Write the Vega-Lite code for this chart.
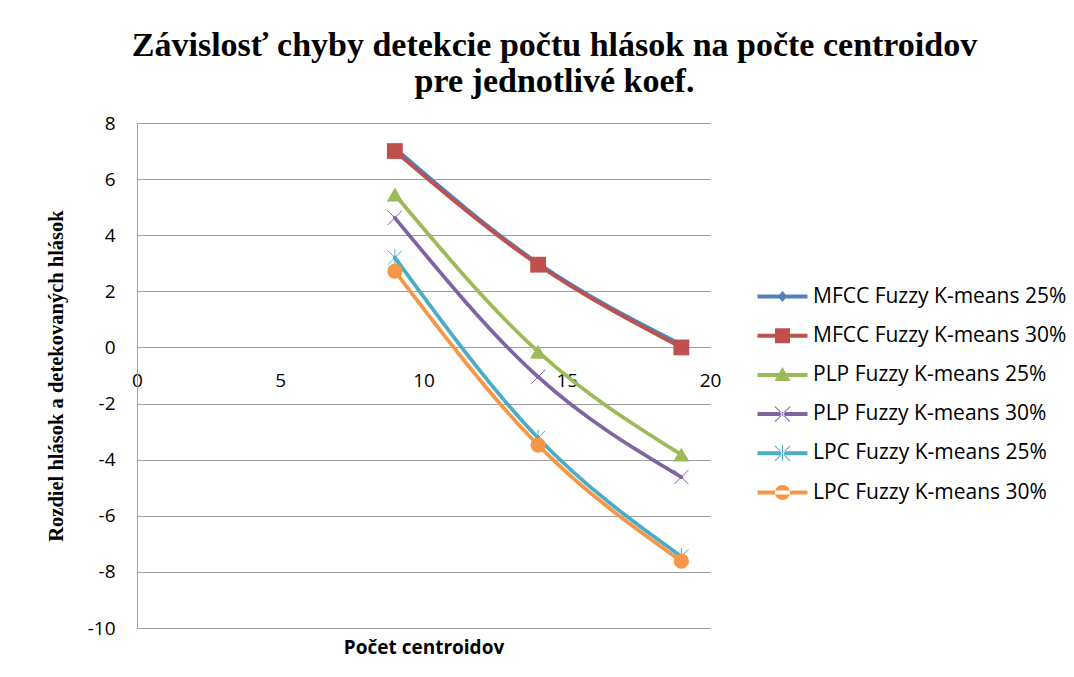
{
  "$schema": "https://vega.github.io/schema/vega-lite/v6.json",
  "autosize": {"type": "none"},
  "width": 573,
  "height": 505,
  "padding": {"left": 137, "top": 123, "right": 364, "bottom": 49},
  "background": "white",
  "config": {"view": {"stroke": null}, "font": "Open Sans"},
  "title": {
    "text": ["Závislosť chyby detekcie počtu hlások na počte centroidov", "pre jednotlivé koef."],
    "font": "Liberation Serif", "fontSize": 34, "fontWeight": "bold", "color": "black",
    "anchor": "middle", "frame": "group", "dx": 131, "offset": 15, "lineHeight": 36
  },
  "data": {"values": [
    {"series": "MFCC Fuzzy K-means 25%", "x": 9, "y": 7.1},
    {"series": "MFCC Fuzzy K-means 25%", "x": 14, "y": 3.0},
    {"series": "MFCC Fuzzy K-means 25%", "x": 19, "y": 0.1},
    {"series": "MFCC Fuzzy K-means 30%", "x": 9, "y": 7.0},
    {"series": "MFCC Fuzzy K-means 30%", "x": 14, "y": 2.95},
    {"series": "MFCC Fuzzy K-means 30%", "x": 19, "y": 0.0},
    {"series": "PLP Fuzzy K-means 25%", "x": 9, "y": 5.45},
    {"series": "PLP Fuzzy K-means 25%", "x": 14, "y": -0.15},
    {"series": "PLP Fuzzy K-means 25%", "x": 19, "y": -3.82},
    {"series": "PLP Fuzzy K-means 30%", "x": 9, "y": 4.62},
    {"series": "PLP Fuzzy K-means 30%", "x": 14, "y": -1.05},
    {"series": "PLP Fuzzy K-means 30%", "x": 19, "y": -4.62},
    {"series": "LPC Fuzzy K-means 25%", "x": 9, "y": 3.2},
    {"series": "LPC Fuzzy K-means 25%", "x": 14, "y": -3.23},
    {"series": "LPC Fuzzy K-means 25%", "x": 19, "y": -7.45},
    {"series": "LPC Fuzzy K-means 30%", "x": 9, "y": 2.72},
    {"series": "LPC Fuzzy K-means 30%", "x": 14, "y": -3.48},
    {"series": "LPC Fuzzy K-means 30%", "x": 19, "y": -7.62}
  ]},
  "encoding": {
    "x": {"field": "x", "type": "quantitative",
      "scale": {"domain": [0, 20], "nice": false, "zero": false},
      "axis": {"values": [0, 5, 10, 15, 20], "offset": -281, "grid": false, "ticks": false,
        "domain": true, "domainColor": "#a0a0a0", "labelFont": "Open Sans", "labelFontSize": 19,
        "labelColor": "black", "labelPadding": 24, "labelFlush": false,
        "title": "Počet centroidov", "titleFont": "Open Sans", "titleFontSize": 19, "titleFontWeight": "bold",
        "titleColor": "black", "titleY": 300, "titleBaseline": "middle"}},
    "y": {"field": "y", "type": "quantitative",
      "scale": {"domain": [-10, 8], "nice": false, "zero": false},
      "axis": {"values": [-10, -8, -6, -4, -2, 0, 2, 4, 6, 8], "grid": true, "gridColor": "#a0a0a0",
        "ticks": false, "domain": true, "domainColor": "#a0a0a0", "labelFont": "Open Sans",
        "labelFontSize": 19, "labelColor": "black", "labelPadding": 22, "labelExpr": "'' + datum.value",
        "title": "Rozdiel hlások a detekovaných hlások", "titleFont": "Liberation Serif",
        "titleFontSize": 20.5, "titleFontWeight": "bold", "titleColor": "black", "titlePadding": 21}}
  },
  "layer": [
    {"transform": [{"filter": "datum.series === 'MFCC Fuzzy K-means 25%'"}],
     "mark": {"type": "line", "interpolate": "monotone", "strokeWidth": 3.75, "strokeCap": "round", "strokeJoin": "round", "color": "#4F81BD",
       "point": {"shape": "diamond", "filled": true, "opacity": 1, "size": 110, "color": "#4F81BD"}}},
    {"transform": [{"filter": "datum.series === 'MFCC Fuzzy K-means 30%'"}],
     "mark": {"type": "line", "interpolate": "monotone", "strokeWidth": 3.75, "strokeCap": "round", "strokeJoin": "round", "color": "#C0504D",
       "point": {"shape": "square", "filled": true, "opacity": 1, "size": 250, "color": "#C0504D"}}},
    {"transform": [{"filter": "datum.series === 'PLP Fuzzy K-means 25%'"}],
     "mark": {"type": "line", "interpolate": "monotone", "strokeWidth": 3.75, "strokeCap": "round", "strokeJoin": "round", "color": "#9BBB59",
       "point": {"shape": "triangle-up", "filled": true, "opacity": 1, "size": 260, "color": "#9BBB59"}}},
    {"transform": [{"filter": "datum.series === 'PLP Fuzzy K-means 30%'"}],
     "mark": {"type": "line", "interpolate": "monotone", "strokeWidth": 3.75, "strokeCap": "round", "strokeJoin": "round", "color": "#8064A2",
       "point": {"shape": "M-1,-1L1,1M-1,1L1,-1", "filled": false, "opacity": 1, "size": 200, "strokeWidth": 1, "color": "#8064A2"}}},
    {"transform": [{"filter": "datum.series === 'LPC Fuzzy K-means 25%'"}],
     "mark": {"type": "line", "interpolate": "monotone", "strokeWidth": 3.75, "strokeCap": "round", "strokeJoin": "round", "color": "#4BACC6",
       "point": {"shape": "M-1,-1L1,1M-1,1L1,-1M0,-1.2V1.2", "filled": false, "opacity": 1, "size": 200, "strokeWidth": 1, "color": "#4BACC6"}}},
    {"transform": [{"filter": "datum.series === 'LPC Fuzzy K-means 30%'"}],
     "mark": {"type": "line", "interpolate": "monotone", "strokeWidth": 3.75, "strokeCap": "round", "strokeJoin": "round", "color": "#F79646",
       "point": {"shape": "circle", "filled": true, "opacity": 1, "size": 230, "color": "#F79646"}}},
    {"mark": {"type": "point", "filled": true, "size": 0},
     "encoding": {
       "color": {"field": "series", "type": "nominal",
         "scale": {"domain": ["MFCC Fuzzy K-means 25%", "MFCC Fuzzy K-means 30%", "PLP Fuzzy K-means 25%", "PLP Fuzzy K-means 30%", "LPC Fuzzy K-means 25%", "LPC Fuzzy K-means 30%"],
           "range": ["#4F81BD", "#C0504D", "#9BBB59", "#8064A2", "#4BACC6", "#F79646"]},
         "legend": {"title": null, "orient": "none", "legendX": 635, "legendY": 163, "padding": 0,
           "labelFont": "Open Sans", "labelFontSize": 21, "labelColor": "black", "labelOffset": 20,
           "rowPadding": 17.2, "symbolSize": 100, "symbolOpacity": 1, "symbolStrokeWidth": 0, "labelLimit": 400}},
       "shape": {"field": "series", "type": "nominal",
         "scale": {"domain": ["MFCC Fuzzy K-means 25%", "MFCC Fuzzy K-means 30%", "PLP Fuzzy K-means 25%", "PLP Fuzzy K-means 30%", "LPC Fuzzy K-means 25%", "LPC Fuzzy K-means 30%"],
           "range": [
             "M-5,-0.4H5V0.4H-5Z M0,-1.1L0.95,0L0,1.1L-0.95,0Z",
             "M-5,-0.4H5V0.4H-5Z M-1.5,-1.5H1.5V1.5H-1.5Z",
             "M-5,-0.4H5V0.4H-5Z M0,-1.6L1.6,1.2L-1.6,1.2Z",
             "M-5,-0.4H5V0.4H-5Z M-1.57,-1.43L1.43,1.57L1.57,1.43L-1.43,-1.57Z M-1.43,1.57L1.57,-1.43L1.43,-1.57L-1.57,1.43Z",
             "M-5,-0.4H5V0.4H-5Z M-1.57,-1.43L1.43,1.57L1.57,1.43L-1.43,-1.57Z M-1.43,1.57L1.57,-1.43L1.43,-1.57L-1.57,1.43Z M-0.1,-1.6H0.1V1.6H-0.1Z",
             "M-5,-0.4H5V0.4H-5Z M-1.5,0A1.5,1.5,0,1,0,1.5,0A1.5,1.5,0,1,0,-1.5,0Z"
           ]},
         "legend": {"title": null, "orient": "none", "legendX": 635, "legendY": 163, "padding": 0,
           "labelFont": "Open Sans", "labelFontSize": 21, "labelColor": "black", "labelOffset": 20,
           "rowPadding": 17.2, "symbolSize": 100, "symbolOpacity": 1, "symbolStrokeWidth": 0, "labelLimit": 400}}
     }}
  ]
}
